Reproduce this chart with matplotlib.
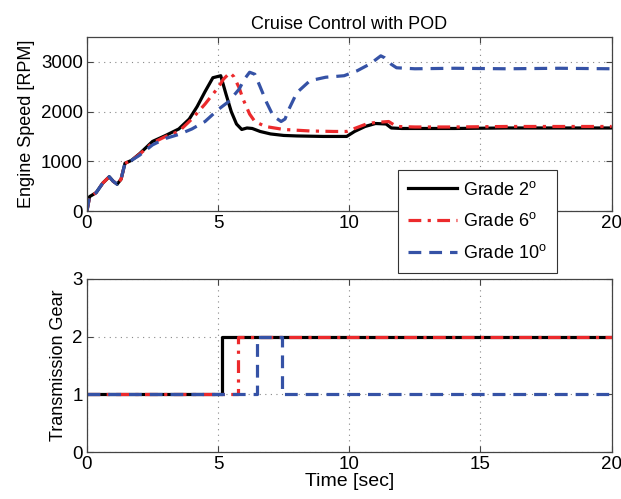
"""Cruise control with POD: engine speed and transmission gear for three road grades."""

import matplotlib

matplotlib.use("Agg")
import matplotlib.pyplot as plt  # noqa: E402

plt.rcParams["font.family"] = ["Liberation Sans", "DejaVu Sans"]
plt.rcParams["mathtext.default"] = "regular"

# Engine speed traces [RPM]
t_grade2 = [0, 0.1, 0.35, 0.6, 0.85, 1.0, 1.15, 1.3, 1.45, 1.7, 2.0, 2.5, 3.0, 3.5,
            3.9, 4.2, 4.5, 4.8, 5.1, 5.3, 5.5, 5.7, 5.9, 6.1, 6.3, 6.6, 7.0, 7.5,
            8.0, 9.0, 9.9, 10.2, 10.6, 11.0, 11.4, 11.6, 12, 14, 16, 18, 20]
rpm_grade2 = [0, 290, 370, 560, 690, 600, 540, 640, 960, 1020, 1150, 1400, 1520, 1650,
              1850, 2100, 2400, 2680, 2720, 2350, 2000, 1750, 1640, 1670, 1660, 1600, 1550, 1520,
              1510, 1500, 1500, 1600, 1700, 1760, 1750, 1670, 1660, 1660, 1670, 1670, 1670]

t_grade6 = [0, 0.1, 0.35, 0.6, 0.85, 1.0, 1.15, 1.3, 1.45, 1.7, 2.0, 2.5, 3.0, 3.5,
            4.0, 4.5, 4.8, 5.0, 5.2, 5.45, 5.6, 5.8, 5.95, 6.2, 6.4, 6.8, 7.5, 8.5,
            9.4, 9.9, 10.3, 10.7, 11.0, 11.5, 11.8, 12.5, 14, 16, 18, 20]
rpm_grade6 = [0, 280, 370, 560, 690, 600, 540, 640, 960, 1020, 1140, 1370, 1500, 1600,
              1850, 2150, 2350, 2480, 2650, 2780, 2700, 2480, 2250, 1950, 1800, 1700, 1640, 1610,
              1600, 1600, 1680, 1760, 1780, 1800, 1700, 1690, 1690, 1700, 1700, 1700]

t_grade10 = [0, 0.1, 0.35, 0.6, 0.85, 1.0, 1.15, 1.3, 1.45, 1.7, 2.0, 2.5, 3.0, 3.5,
             4.0, 4.5, 5.0, 5.4, 5.8, 6.0, 6.2, 6.4, 6.6, 6.85, 7.1, 7.4, 7.55, 7.7,
             8.0, 8.5, 9.1, 9.8, 10.3, 10.8, 11.2, 11.35, 11.6, 11.8, 12.5, 14, 16, 18, 20]
rpm_grade10 = [0, 290, 370, 560, 690, 600, 540, 640, 960, 1020, 1120, 1330, 1460, 1540,
               1650, 1800, 2040, 2200, 2450, 2650, 2790, 2750, 2500, 2180, 1910, 1800, 1850, 2050,
               2380, 2620, 2690, 2720, 2820, 2960, 3120, 3080, 2950, 2880, 2860, 2870, 2860, 2870, 2860]

# Transmission gear (step changes)
gear_t2 = [0, 5.15, 20]
gear_2 = [1, 2, 2]
gear_t6 = [0, 5.77, 20]
gear_6 = [1, 2, 2]
gear_t10 = [0, 6.49, 7.44, 20]
gear_10 = [1, 2, 1, 1]

labels = ["Grade 2$^{o}$", "Grade 6$^{o}$", "Grade 10$^{o}$"]
# the legend box hides the "15" label on the upper plot
top_xticklabels = ["0", "5", "10", "", "20"]

RED = "#ec2a2c"
BLUE = "#3552a6"
styles = [
    dict(color="black", linestyle="-"),
    dict(color=RED, linestyle=(0, (4, 2, 1, 2))),
    dict(color=BLUE, linestyle=(0, (4, 2.5))),
]

fig = plt.figure(figsize=(6.21, 4.99), dpi=100)
ax1 = fig.add_axes([0.140, 0.577, 0.845, 0.349])
ax2 = fig.add_axes([0.140, 0.094, 0.845, 0.347])

for (t, y), lab, st in zip([(t_grade2, rpm_grade2), (t_grade6, rpm_grade6),
                            (t_grade10, rpm_grade10)], labels, styles):
    ax1.plot(t, y, label=lab, linewidth=2.3, **st)

for (t, g), st in zip([(gear_t2, gear_2), (gear_t6, gear_6), (gear_t10, gear_10)], styles):
    ax2.step(t, g, where="post", linewidth=2.3, **st)

ax1.set_xlim(0, 20)
ax1.set_ylim(0, 3500)
ax1.set_xticks([0, 5, 10, 15, 20])
ax1.set_xticklabels(top_xticklabels)
ax1.set_yticks([0, 1000, 2000, 3000])
ax1.set_ylabel("Engine Speed [RPM]", fontsize=13)
ax1.set_title("Cruise Control with POD", fontsize=13, pad=6)

ax2.set_xlim(0, 20)
ax2.set_ylim(0, 3)
ax2.set_xticks([0, 5, 10, 15, 20])
ax2.set_yticks([0, 1, 2, 3])
ax2.set_ylabel("Transmission Gear", fontsize=13)
ax2.set_xlabel("Time [sec]", fontsize=14, labelpad=0)

for ax in (ax1, ax2):
    ax.grid(True, color="#888888", linestyle=(0, (1, 4)), linewidth=0.8)
    ax.tick_params(direction="in", top=True, right=True, labelsize=13.5,
                   length=4, color="#444444", pad=3)
    for sp in ax.spines.values():
        sp.set_color("#444444")
        sp.set_linewidth(0.9)

leg = ax1.legend(loc="upper left", bbox_to_anchor=(0.592, 0.236), borderaxespad=0,
                 fontsize=13, frameon=True, fancybox=False, framealpha=1,
                 edgecolor="#333333", handlelength=2.7, borderpad=0.6,
                 labelspacing=0.75, handletextpad=0.3)
leg.get_frame().set_linewidth(0.8)
leg.set_zorder(10)

fig.savefig("out.png", dpi=100)
plt.close(fig)
